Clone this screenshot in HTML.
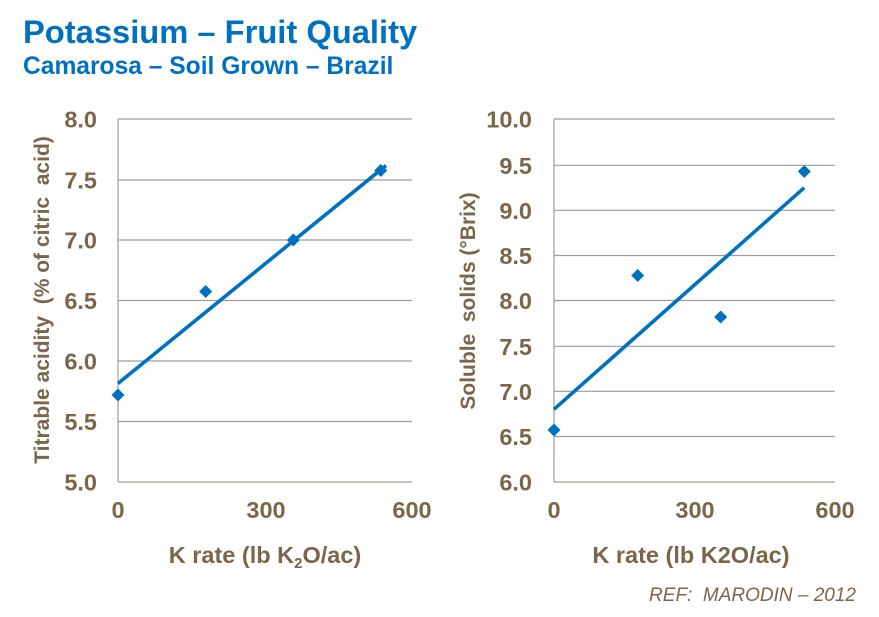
<!DOCTYPE html>
<html>
<head>
<meta charset="utf-8">
<style>
  html, body { margin: 0; padding: 0; background: #ffffff; }
  body { width: 879px; height: 617px; overflow: hidden; }
  svg { display: block; }
  .t { font-family: "Liberation Sans", Arial, sans-serif; }
</style>
</head>
<body>
<svg width="879" height="617" viewBox="0 0 879 617" xmlns="http://www.w3.org/2000/svg">
  <rect x="0" y="0" width="879" height="617" fill="#ffffff"/>

  <!-- Titles -->
  <text class="t" x="23" y="43" font-size="32.7" font-weight="bold" fill="#0070c0">Potassium – Fruit Quality</text>
  <text class="t" x="23" y="74" font-size="24.6" font-weight="bold" fill="#0070c0">Camarosa – Soil Grown – Brazil</text>

  <!-- LEFT CHART -->
  <g stroke="#a39b92" stroke-width="1.2" fill="none">
    <line x1="118" y1="119" x2="412" y2="119"/>
    <line x1="118" y1="180" x2="412" y2="180"/>
    <line x1="118" y1="240" x2="412" y2="240"/>
    <line x1="118" y1="300.5" x2="412" y2="300.5"/>
    <line x1="118" y1="361" x2="412" y2="361"/>
    <line x1="118" y1="421.5" x2="412" y2="421.5"/>
    <line x1="118" y1="482" x2="412" y2="482"/>
    <line x1="118" y1="119" x2="118" y2="482"/>
  </g>
  <g class="t" font-size="23.5" font-weight="bold" fill="#7b6649" text-anchor="end">
    <text x="97" y="127.5">8.0</text>
    <text x="97" y="188.5">7.5</text>
    <text x="97" y="248.5">7.0</text>
    <text x="97" y="309">6.5</text>
    <text x="97" y="369.5">6.0</text>
    <text x="97" y="430">5.5</text>
    <text x="97" y="490.5">5.0</text>
  </g>
  <g class="t" font-size="23.5" font-weight="bold" fill="#7b6649" text-anchor="middle">
    <text x="118" y="518">0</text>
    <text x="266" y="518">300</text>
    <text x="412" y="518">600</text>
  </g>
  <text class="t" x="265" y="563" font-size="23.5" font-weight="bold" fill="#7b6649" text-anchor="middle">K rate (lb K<tspan font-size="15" dy="5">2</tspan><tspan dy="-5">O/ac)</tspan></text>
  <text class="t" transform="translate(49,300) rotate(-90)" font-size="21" font-weight="bold" fill="#7b6649" text-anchor="middle" xml:space="preserve">Titrable acidity  (% of citric  acid)</text>

  <line x1="118" y1="383.5" x2="386" y2="165.5" stroke="#0070c0" stroke-width="3.6"/>
  <g fill="#0070c0">
    <polygon points="118,388.5 124.5,395 118,401.5 111.5,395"/>
    <polygon points="205.7,285 212.2,291.5 205.7,298 199.2,291.5"/>
    <polygon points="293.3,233.5 299.8,240 293.3,246.5 286.8,240"/>
    <polygon points="380.7,164 387.2,170.5 380.7,177 374.2,170.5"/>
  </g>

  <!-- RIGHT CHART -->
  <g stroke="#a39b92" stroke-width="1.2" fill="none">
    <line x1="554" y1="119" x2="835" y2="119"/>
    <line x1="554" y1="165.3" x2="835" y2="165.3"/>
    <line x1="554" y1="210.3" x2="835" y2="210.3"/>
    <line x1="554" y1="255.5" x2="835" y2="255.5"/>
    <line x1="554" y1="300.5" x2="835" y2="300.5"/>
    <line x1="554" y1="346.3" x2="835" y2="346.3"/>
    <line x1="554" y1="391.3" x2="835" y2="391.3"/>
    <line x1="554" y1="436.5" x2="835" y2="436.5"/>
    <line x1="554" y1="482" x2="835" y2="482"/>
    <line x1="554" y1="119" x2="554" y2="482"/>
  </g>
  <g class="t" font-size="23.5" font-weight="bold" fill="#7b6649" text-anchor="end">
    <text x="532" y="127.5">10.0</text>
    <text x="532" y="173.8">9.5</text>
    <text x="532" y="218.8">9.0</text>
    <text x="532" y="264">8.5</text>
    <text x="532" y="309">8.0</text>
    <text x="532" y="354.8">7.5</text>
    <text x="532" y="399.8">7.0</text>
    <text x="532" y="445">6.5</text>
    <text x="532" y="490.5">6.0</text>
  </g>
  <g class="t" font-size="23.5" font-weight="bold" fill="#7b6649" text-anchor="middle">
    <text x="554" y="518">0</text>
    <text x="695" y="518">300</text>
    <text x="835" y="518">600</text>
  </g>
  <text class="t" x="691" y="563" font-size="23.5" font-weight="bold" fill="#7b6649" text-anchor="middle">K rate (lb K2O/ac)</text>
  <text class="t" transform="translate(475,301) rotate(-90)" font-size="21" font-weight="bold" fill="#7b6649" text-anchor="middle" xml:space="preserve">Soluble  solids (°Brix)</text>

  <line x1="554" y1="409.3" x2="804.3" y2="187.7" stroke="#0070c0" stroke-width="3.6"/>
  <g fill="#0070c0">
    <polygon points="554,423.5 560.5,430 554,436.5 547.5,430"/>
    <polygon points="637.7,269 644.2,275.5 637.7,282 631.2,275.5"/>
    <polygon points="720.7,310.5 727.2,317 720.7,323.5 714.2,317"/>
    <polygon points="804.3,165 810.8,171.5 804.3,178 797.8,171.5"/>
  </g>

  <text class="t" x="856" y="601" font-size="19" font-style="italic" fill="#7b6649" text-anchor="end" xml:space="preserve">REF:  MARODIN – 2012</text>
</svg>
</body>
</html>
